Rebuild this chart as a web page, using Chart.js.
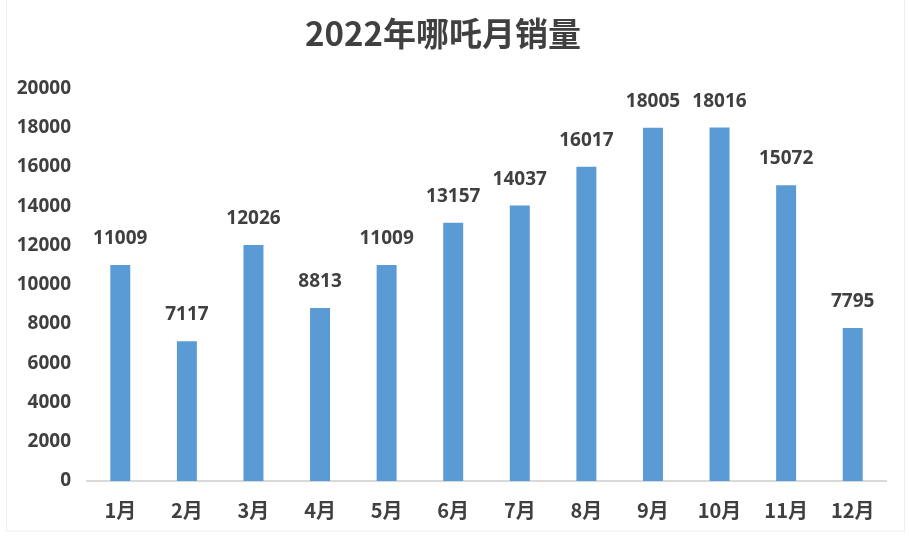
<!DOCTYPE html>
<html>
<head>
<meta charset="utf-8">
<script src="https://cdn.jsdelivr.net/npm/chart.js@4.4.1/dist/chart.umd.min.js"></script>
<style>
  html, body { margin: 0; padding: 0; background: #fff; }
  #wrap { width: 909px; height: 556px; position: relative; }
</style>
</head>
<body>
<div id="wrap"><canvas id="salesChart"></canvas></div>
<script>
// data
const months = ["1月", "2月", "3月", "4月", "5月", "6月", "7月", "8月", "9月", "10月", "11月", "12月"];
const sales = [11009, 7117, 12026, 8813, 11009, 13157, 14037, 16017, 18005, 18016, 15072, 7795];
const yTicks = [0, 2000, 4000, 6000, 8000, 10000, 12000, 14000, 16000, 18000, 20000];
const chartTitle = "2022年哪吒月销量";

const textColor = "#404040";
const barColor = "#5B9BD5";

// --- value labels above bars + faint frame ---
const valueLabels = {
  id: "valueLabels",
  afterDatasetsDraw(chart) {
    const ctx = chart.ctx;
    const meta = chart.getDatasetMeta(0);
    ctx.save();
    ctx.font = "bold 19px 'Noto Sans', sans-serif";
    ctx.fillStyle = textColor;
    ctx.textAlign = "center";
    ctx.textBaseline = "alphabetic";
    meta.data.forEach((bar, i) => {
      ctx.fillText(String(sales[i]), bar.x, bar.y - 21);
    });
    ctx.restore();
  },
  beforeDraw(chart) {
    const ctx = chart.ctx;
    ctx.save();
    ctx.strokeStyle = "#eeeeee";
    ctx.lineWidth = 1;
    ctx.strokeRect(6.5, -1, 898, 532);
    ctx.restore();
  },
};

const ctx = document.getElementById("salesChart").getContext("2d");
new Chart(ctx, {
  type: "bar",
  data: {
    labels: months,
    datasets: [{
      data: sales,
      backgroundColor: barColor,
      borderWidth: 0,
      categoryPercentage: 1,
      barPercentage: 0.3,
    }],
  },
  options: {
    responsive: true,
    maintainAspectRatio: false,
    animation: false,
    layout: { padding: { left: 0, right: 23, top: 0, bottom: 0 } },
    plugins: {
      legend: { display: false },
      tooltip: { enabled: false },
      title: {
        display: true,
        text: chartTitle,
        color: textColor,
        font: { family: "'Noto Sans CJK SC', sans-serif", size: 33, weight: "bold" },
        padding: { top: 14, bottom: 35 },
      },
    },
    scales: {
      x: {
        grid: { display: false, drawTicks: false },
        border: { display: true, color: "#d9d9d9", width: 2 },
        ticks: {
          color: textColor,
          padding: 17,
          font: { family: "'Noto Sans CJK SC', sans-serif", size: 20, weight: "bold" },
        },
        afterFit(scale) { scale.height = 75; },
      },
      y: {
        min: 0,
        max: 20000,
        afterBuildTicks(scale) { scale.ticks = yTicks.map(v => ({ value: v })); },
        grid: { display: false, drawTicks: false },
        border: { display: false },
        ticks: {
          color: textColor,
          padding: 16,
          font: { family: "'Noto Sans', sans-serif", size: 19, weight: "bold" },
          callback: (v) => String(v),
        },
        afterFit(scale) { scale.width = 87; },
      },
    },
  },
  plugins: [valueLabels],
});
</script>
</body>
</html>
